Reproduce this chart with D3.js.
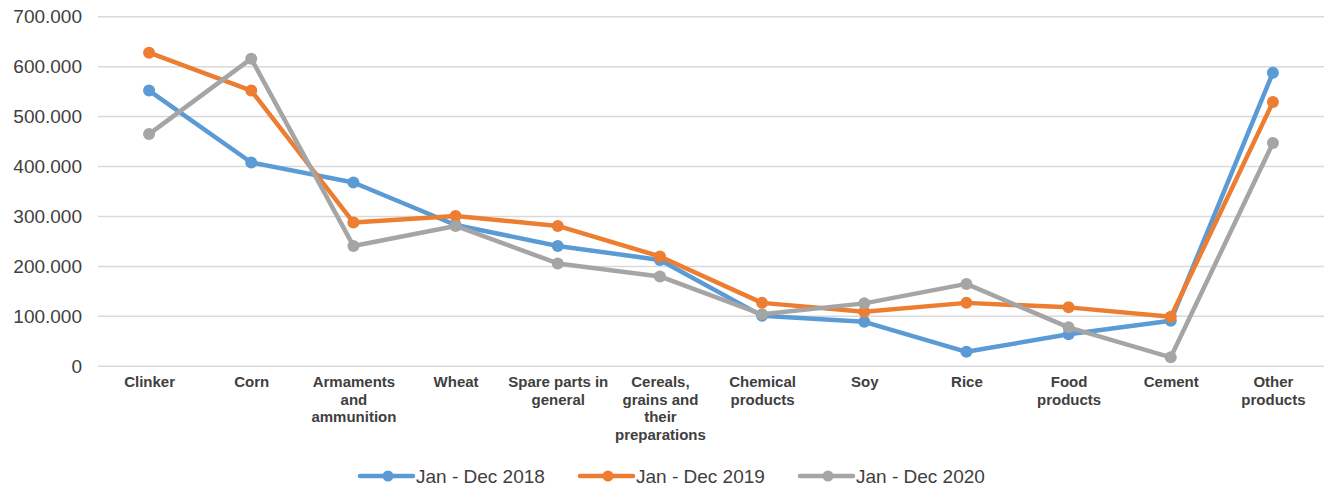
<!DOCTYPE html>
<html>
<head>
<meta charset="utf-8">
<script src="https://cdn.jsdelivr.net/npm/d3@7"></script>
<style>
  body { margin: 0; background: #fff; }
  svg { display: block; font-family: "Liberation Sans", Arial, sans-serif; }
</style>
</head>
<body>
<svg id="chart" width="1331" height="489"></svg>
<script>
// categories (line breaks where the original wraps)
const categories = [
  "Clinker", "Corn", "Armaments\nand\nammunition", "Wheat", "Spare parts in\ngeneral",
  "Cereals,\ngrains and\ntheir\npreparations", "Chemical\nproducts", "Soy", "Rice",
  "Food\nproducts", "Cement", "Other\nproducts"
];

const series2018 = [552000, 408000, 368000, 283000, 241000, 213000, 101000, 89000, 29000, 64000, 91000, 588000];
const series2019 = [628000, 552000, 288000, 301000, 281000, 220000, 127000, 109000, 127000, 118000, 99000, 529000];
const series2020 = [465000, 616000, 241000, 281000, 206000, 180000, 104000, 126000, 165000, 78000, 18000, 447000];

const seriesNames = ["Jan - Dec 2018", "Jan - Dec 2019", "Jan - Dec 2020"];
const seriesColors = ["#5B9BD5", "#ED7D31", "#A5A5A5"];
const yTicks = [0, 100000, 200000, 300000, 400000, 500000, 600000, 700000];

const svg = d3.select("#chart");
const plotLeft = 98, plotRight = 1324, plotTop = 16.7, plotBottom = 366.3;

const x = d3.scalePoint().domain(categories).range([plotLeft, plotRight]).padding(0.5);
const y = d3.scaleLinear().domain([0, 700000]).range([plotBottom, plotTop]);

// number format with dot as thousands separator
const fmt = v => v === 0 ? "0" : d3.format(",")(v).replace(/,/g, ".");

// gridlines
svg.append("g")
  .selectAll("line")
  .data(yTicks)
  .join("line")
  .attr("x1", plotLeft).attr("x2", plotRight)
  .attr("y1", d => y(d)).attr("y2", d => y(d))
  .attr("stroke", "#d9d9d9")
  .attr("stroke-width", 1.5);

// y axis labels
const yAxis = d3.axisLeft(y).tickValues(yTicks).tickFormat(fmt).tickSize(0).tickPadding(0);
const yg = svg.append("g").attr("transform", `translate(82,0)`).call(yAxis);
yg.select(".domain").remove();
yg.selectAll("text")
  .attr("font-size", 19)
  .attr("font-family", "Liberation Sans, Arial, sans-serif")
  .attr("fill", "#404040");

// x axis labels
const xg = svg.append("g").attr("transform", `translate(0,${plotBottom})`)
  .call(d3.axisBottom(x).tickSize(0).tickFormat(""));
xg.select(".domain").remove();
xg.selectAll(".tick").each(function(d) {
  const t = d3.select(this).append("text")
    .attr("text-anchor", "middle")
    .attr("font-size", 15)
    .attr("font-weight", "bold")
    .attr("font-family", "Liberation Sans, Arial, sans-serif")
    .attr("fill", "#404040")
    .attr("y", 21);
  d.split("\n").forEach((line, i) => {
    t.append("tspan").attr("x", 0).attr("dy", i === 0 ? 0 : 17.5).text(line);
  });
});

// lines and markers
const allSeries = [series2018, series2019, series2020];
const line = d3.line().x((d, i) => x(categories[i])).y(d => y(d));

allSeries.forEach((vals, s) => {
  svg.append("path")
    .datum(vals)
    .attr("d", line)
    .attr("fill", "none")
    .attr("stroke", seriesColors[s])
    .attr("stroke-width", 4.5)
    .attr("stroke-linejoin", "round");
  svg.append("g")
    .selectAll("circle")
    .data(vals)
    .join("circle")
    .attr("cx", (d, i) => x(categories[i]))
    .attr("cy", d => y(d))
    .attr("r", 6)
    .attr("fill", seriesColors[s]);
});

// legend
const legend = svg.append("g").attr("transform", "translate(360,476)");
seriesNames.forEach((name, i) => {
  const g = legend.append("g").attr("transform", `translate(${i * 220},0)`);
  g.append("line").attr("x1", 0).attr("x2", 53).attr("y1", 0).attr("y2", 0)
    .attr("stroke", seriesColors[i]).attr("stroke-width", 4.5).attr("stroke-linecap", "round");
  g.append("circle").attr("cx", 28).attr("cy", 0).attr("r", 5.5).attr("fill", seriesColors[i]);
  g.append("text").attr("x", 56).attr("y", 7)
    .attr("font-size", 19).attr("fill", "#404040").text(name);
});
</script>
</body>
</html>
